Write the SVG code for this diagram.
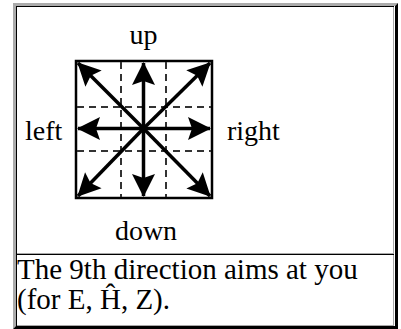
<svg xmlns="http://www.w3.org/2000/svg" width="401" height="329" viewBox="0 0 401 329">
<style>
text{font-family:"Liberation Serif","Times New Roman",serif;font-size:28px;fill:#000}
text.cap{font-size:29px}
.grid{stroke:#333;stroke-width:2;stroke-dasharray:7 5;fill:none}
.arr{stroke:#000;stroke-width:3.5;fill:none;marker-end:url(#head)}
.dk{stroke:#000;stroke-width:1}
.lt{stroke:#a8a8a8;stroke-width:1}
</style>
<defs>
<marker id="head" markerUnits="userSpaceOnUse" viewBox="-24 -13 26 26" refX="0" refY="0" markerWidth="26" markerHeight="26" orient="auto">
<path d="M1,0 L-22,-11.5 L-18,0 L-22,11.5 Z" fill="#000"/>
</marker>
</defs>
<rect x="0" y="0" width="401" height="329" fill="#fff"/>
<g id="table">
<polygon points="13,3 398,3 395,6 16,6 16,326 13,329" fill="#ababab"/>
<polygon points="398,3 398,329 13,329 16,326 395,326 395,6" fill="#000"/>
</g>
<g id="cell1">
<line class="dk" x1="16" y1="6.5" x2="394" y2="6.5"/>
<line class="dk" x1="16.5" y1="6" x2="16.5" y2="254"/>
<line class="lt" x1="393.5" y1="7" x2="393.5" y2="254"/>
<line class="lt" x1="17" y1="253.5" x2="394" y2="253.5"/>
</g>
<g id="cell2">
<line class="dk" x1="16" y1="254.5" x2="394" y2="254.5"/>
<line class="dk" x1="16.5" y1="254" x2="16.5" y2="326"/>
<line class="lt" x1="393.5" y1="255" x2="393.5" y2="326"/>
<line class="lt" x1="17" y1="325.5" x2="394" y2="325.5"/>
</g>
<g id="compass">
<rect x="76" y="61" width="136" height="137" fill="#fff" stroke="#000" stroke-width="2.5"/>
<line class="grid" x1="121" y1="62" x2="121" y2="197"/>
<line class="grid" x1="166" y1="62" x2="166" y2="197"/>
<line class="grid" x1="77" y1="107" x2="211" y2="107"/>
<line class="grid" x1="77" y1="151" x2="211" y2="151"/>
</g>
<g id="connectors">
<line class="arr" x1="143.5" y1="128.5" x2="143.5" y2="63"/>
<line class="arr" x1="143.5" y1="128.5" x2="143.5" y2="196"/>
<line class="arr" x1="143.5" y1="128.5" x2="78" y2="128.5"/>
<line class="arr" x1="143.5" y1="128.5" x2="210" y2="128.5"/>
<line class="arr" x1="143.5" y1="128.5" x2="78" y2="63"/>
<line class="arr" x1="143.5" y1="128.5" x2="210" y2="63"/>
<line class="arr" x1="143.5" y1="128.5" x2="78" y2="196"/>
<line class="arr" x1="143.5" y1="128.5" x2="210" y2="196"/>
</g>
<g id="labels">
<text x="143.5" y="44" text-anchor="middle">up</text>
<text x="25" y="140">left</text>
<text x="227" y="140">right</text>
<text x="146" y="240" text-anchor="middle">down</text>
</g>
<g id="caption">
<text class="cap" x="17" y="279">The 9th direction aims at you</text>
<text class="cap" x="17" y="309">(for E, Ĥ, Z).</text>
</g>
</svg>
